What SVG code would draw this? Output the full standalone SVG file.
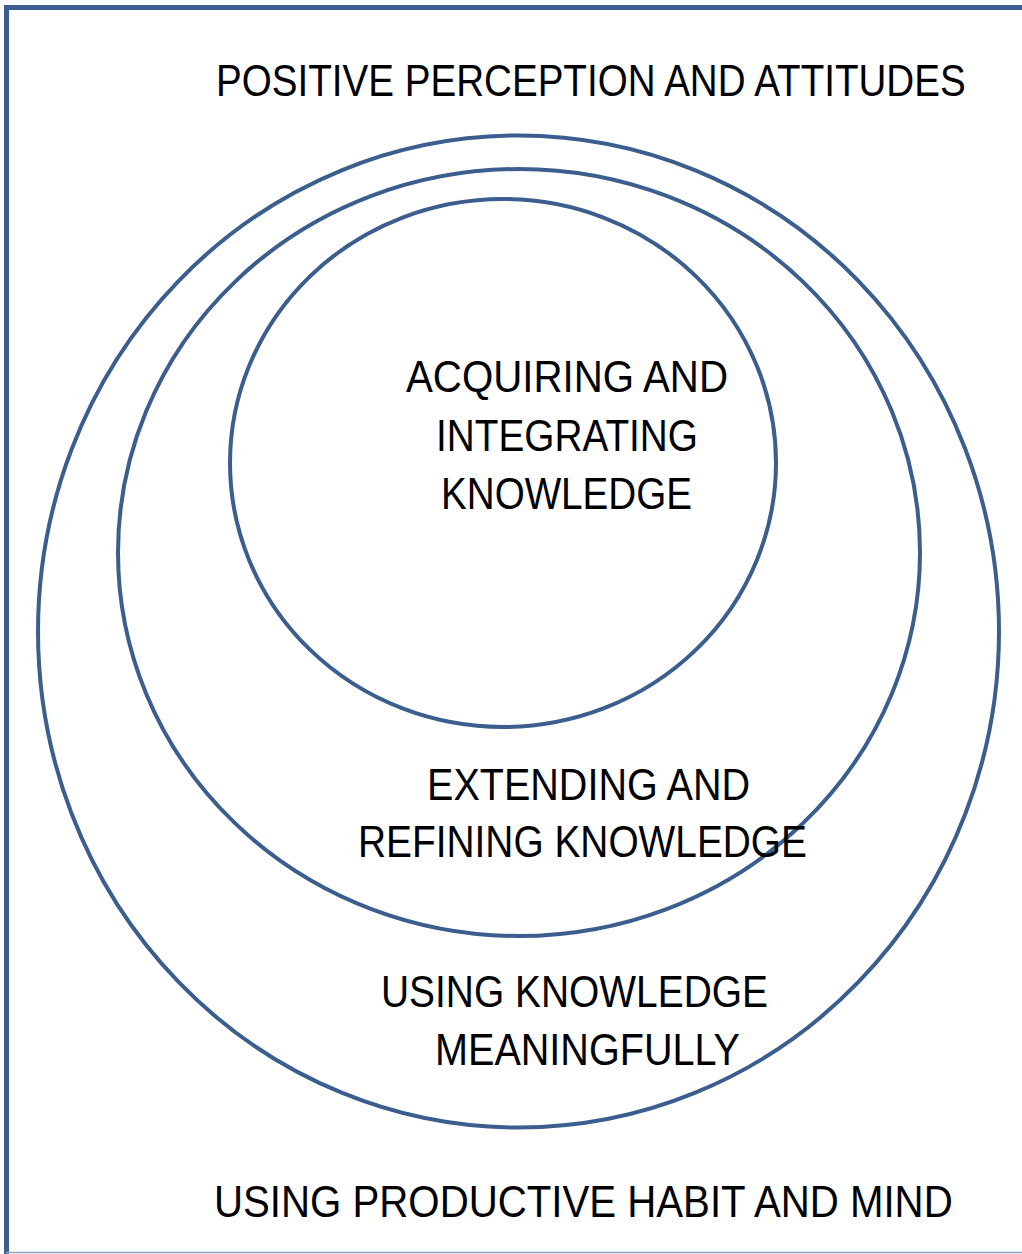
<svg xmlns="http://www.w3.org/2000/svg" width="1022" height="1254" viewBox="0 0 1022 1254">
<style>
.ring{fill:none;stroke:#3B5E8E;stroke-width:4}
.frame{fill:none;stroke:#3B5E8E;stroke-width:5}
.t{font-family:"Liberation Sans",Arial,sans-serif;font-size:45px;fill:#000}
</style>
<rect width="1022" height="1254" fill="#fff"/>
<g id="frame">
<path class="frame" d="M1022,7.5 H6.5 V1254"/>
<line x1="6" y1="1252.5" x2="1022" y2="1252.5" stroke="#8EA3BF" stroke-width="1.5"/>
</g>
<g id="label-attitudes">
<text class="t" transform="translate(216,96) scale(0.85,1)" x="0" y="0" textLength="882" lengthAdjust="spacingAndGlyphs">POSITIVE PERCEPTION AND ATTITUDES</text>
</g>
<g id="label-habits">
<text class="t" transform="translate(214,1217) scale(0.89,1)" x="0" y="0" textLength="830" lengthAdjust="spacingAndGlyphs">USING PRODUCTIVE HABIT AND MIND</text>
</g>
<g id="outer">
<ellipse class="ring" cx="518.5" cy="631.5" rx="480.5" ry="496"/>
<text class="t" x="381" y="1007" textLength="387" lengthAdjust="spacingAndGlyphs">USING KNOWLEDGE</text>
<text class="t" x="435" y="1065" textLength="305" lengthAdjust="spacingAndGlyphs">MEANINGFULLY</text>
</g>
<g id="middle">
<ellipse class="ring" cx="519" cy="552.5" rx="401" ry="383.5"/>
<text class="t" x="427" y="800" textLength="323" lengthAdjust="spacingAndGlyphs">EXTENDING AND</text>
<text class="t" x="358" y="857" textLength="449" lengthAdjust="spacingAndGlyphs">REFINING KNOWLEDGE</text>
</g>
<g id="inner">
<ellipse class="ring" cx="503" cy="463" rx="273" ry="264"/>
<text class="t" x="406" y="392" textLength="322" lengthAdjust="spacingAndGlyphs">ACQUIRING AND</text>
<text class="t" x="436" y="451" textLength="262" lengthAdjust="spacingAndGlyphs">INTEGRATING</text>
<text class="t" x="441" y="509" textLength="251" lengthAdjust="spacingAndGlyphs">KNOWLEDGE</text>
</g>
<g id="connectors"/>
</svg>
